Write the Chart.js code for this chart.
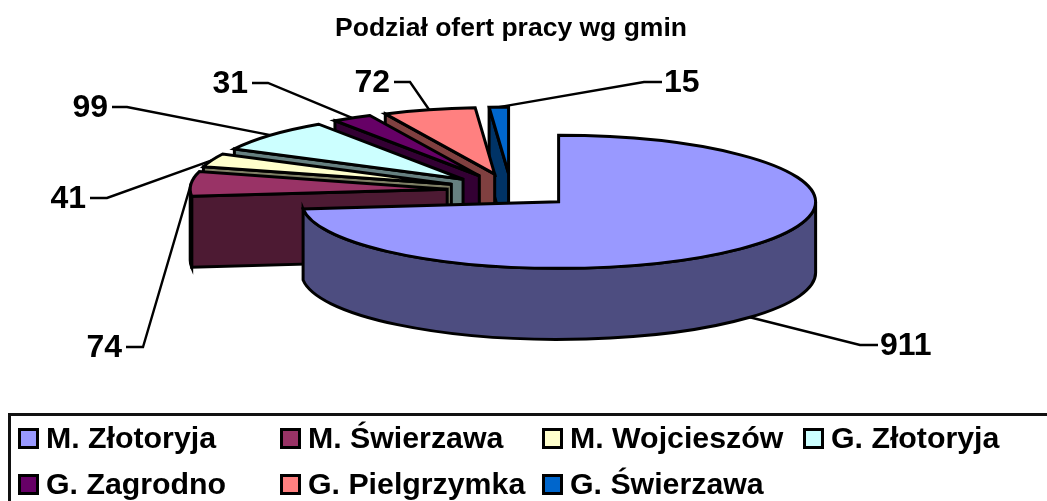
<!DOCTYPE html>
<html lang="pl">
<head>
<meta charset="utf-8">
<title>Podział ofert pracy wg gmin</title>
<script src="https://cdn.jsdelivr.net/npm/chart.js@4.4.0/dist/chart.umd.js"></script>
<style>
    html, body { margin: 0; padding: 0; background: #fff; overflow: hidden; }
    #wrap { position: relative; width: 1047px; height: 501px; overflow: hidden; }
    canvas { display: block; }
    #legend {
        position: absolute; left: 8px; top: 413px; width: 1060px; height: 120px;
        border: 3px solid #111; box-sizing: border-box;
        font: bold 30.3px "Liberation Sans", Arial, sans-serif; color: #000;
    }
    .item { position: absolute; display: flex; align-items: center; height: 32px; white-space: nowrap; }
    .swatch { width: 21px; height: 21px; border: 3px solid #000; box-sizing: border-box; margin-right: 7px; }
</style>
</head>
<body>
<div id="wrap">
    <canvas id="chart" width="1047" height="501"></canvas>
    <div id="legend"></div>
</div>
<script>
const titleText = 'Podział ofert pracy wg gmin';
const gminy = ['M. Złotoryja', 'M. Świerzawa', 'M. Wojcieszów', 'G. Złotoryja', 'G. Zagrodno', 'G. Pielgrzymka', 'G. Świerzawa'];
const oferty = [911, 74, 41, 99, 31, 72, 15];
const kolory = ['#9999FF', '#993366', '#FFFFCC', '#CCFFFF', '#660066', '#FF8080', '#0066CC'];

// look of the squashed pie, in pixels
const RX = 257, RY = 66.5, DEPTH = 71;
const EXPLODE_X = 64, EXPLODE_Y = 17;
// leader line knee and label side, one per slice
const knees = [[860, 345], [143, 347], [107, 198], [127, 107], [268, 83], [410, 82], [644, 82]];
const tails = [18, -17, -17, -15, -16, -16, 18];
const legendCols = [7, 269, 531, 792];
const legendRows = [6, 52];

const shade = (hex) => {
    const n = parseInt(hex.slice(1), 16);
    const c = [n >> 16, (n >> 8) & 255, n & 255].map((v) => Math.round(v / 2));
    return `rgb(${c[0]},${c[1]},${c[2]})`;
};

function sliceGeom(el) {
    const mid = (el.startAngle + el.endAngle) / 2;
    return {
        mid,
        cx: el.x + Math.cos(mid) * EXPLODE_X,
        cy: el.y + Math.sin(mid) * EXPLODE_Y,
    };
}

function paint(ctx, el) {
    ctx.fill();
    ctx.strokeStyle = el.options.borderColor;
    ctx.lineWidth = el.options.borderWidth;
    ctx.stroke();
}

function drawEdgeWall(ctx, el, g, a) {
    const rimX = g.cx + Math.cos(a) * RX, rimY = g.cy + Math.sin(a) * RY;
    ctx.beginPath();
    ctx.moveTo(g.cx, g.cy);
    ctx.lineTo(rimX, rimY);
    ctx.lineTo(rimX, rimY + DEPTH);
    ctx.lineTo(g.cx, g.cy + DEPTH);
    ctx.closePath();
    ctx.fillStyle = shade(el.options.backgroundColor);
    paint(ctx, el);
}

function drawSlice(ctx, el) {
    const g = sliceGeom(el);
    const a0 = el.startAngle, a1 = el.endAngle;
    if (Math.cos(a0) < -1e-6) drawEdgeWall(ctx, el, g, a0);
    if (Math.cos(a1) > 1e-6) drawEdgeWall(ctx, el, g, a1);

    // outer wall, only the part that faces us
    const f0 = Math.max(a0, 0), f1 = Math.min(a1, Math.PI);
    if (f1 > f0) {
        ctx.beginPath();
        ctx.ellipse(g.cx, g.cy, RX, RY, 0, f0, f1);
        ctx.lineTo(g.cx + Math.cos(f1) * RX, g.cy + Math.sin(f1) * RY + DEPTH);
        ctx.ellipse(g.cx, g.cy + DEPTH, RX, RY, 0, f1, f0, true);
        ctx.closePath();
        ctx.fillStyle = shade(el.options.backgroundColor);
        paint(ctx, el);
    }

    ctx.beginPath();
    ctx.moveTo(g.cx, g.cy);
    ctx.ellipse(g.cx, g.cy, RX, RY, 0, a0, a1);
    ctx.closePath();
    ctx.fillStyle = el.options.backgroundColor;
    paint(ctx, el);
}

function drawLeader(ctx, el, i, value) {
    const g = sliceGeom(el);
    const front = Math.sin(g.mid) > 0;
    const sx = g.cx + Math.cos(g.mid) * RX;
    const sy = g.cy + Math.sin(g.mid) * RY + (front ? DEPTH : 0);
    const [kx, ky] = knees[i];
    const tail = tails[i];
    ctx.beginPath();
    ctx.moveTo(sx, sy);
    ctx.lineTo(kx, ky);
    ctx.lineTo(kx + tail, ky);
    ctx.strokeStyle = '#000';
    ctx.lineWidth = 2.4;
    ctx.stroke();
    ctx.fillStyle = '#000';
    ctx.font = 'bold 32px "Liberation Sans", Arial, sans-serif';
    ctx.textBaseline = 'middle';
    ctx.textAlign = tail > 0 ? 'left' : 'right';
    ctx.fillText(String(value), kx + tail + (tail > 0 ? 2 : -4), ky + 1);
}

const pie3d = {
    id: 'pie3d',
    beforeDatasetsDraw(chart) {
        const { ctx } = chart;
        const arcs = chart.getDatasetMeta(0).data;
        const values = chart.data.datasets[0].data;
        ctx.save();
        ctx.lineJoin = 'miter';
        ctx.miterLimit = 6;
        arcs.forEach((el, i) => drawLeader(ctx, el, i, values[i]));
        // back slices first, the big one last
        for (let i = arcs.length - 1; i >= 0; i--) drawSlice(ctx, arcs[i]);
        ctx.restore();
        return false;
    },
};

const chart = new Chart(document.getElementById('chart'), {
    type: 'pie',
    data: {
        labels: gminy,
        datasets: [{ data: oferty, backgroundColor: kolory, borderColor: '#000', borderWidth: 3 }],
    },
    options: {
        responsive: false,
        animation: false,
        // puts the pie's true centre at 511,190.5
        layout: { padding: { left: 0, right: 25, top: 0, bottom: 170.8 } },
        plugins: {
            legend: { display: false },
            tooltip: { enabled: false },
            title: {
                display: true,
                text: titleText,
                color: '#000',
                font: { family: '"Liberation Sans", Arial, sans-serif', size: 26.5, weight: 'bold', lineHeight: 1.2 },
                padding: { top: 12.5, bottom: 6.5 },
            },
        },
    },
    plugins: [pie3d],
});

// legend as html, columns line up like in the original
const legendBox = document.getElementById('legend');
chart.data.labels.forEach((label, i) => {
    const item = document.createElement('div');
    item.className = 'item';
    item.style.left = legendCols[i % 4] + 'px';
    item.style.top = legendRows[Math.floor(i / 4)] + 'px';
    const swatch = document.createElement('span');
    swatch.className = 'swatch';
    swatch.style.background = kolory[i];
    item.appendChild(swatch);
    item.appendChild(document.createTextNode(label));
    legendBox.appendChild(item);
});
</script>
</body>
</html>
